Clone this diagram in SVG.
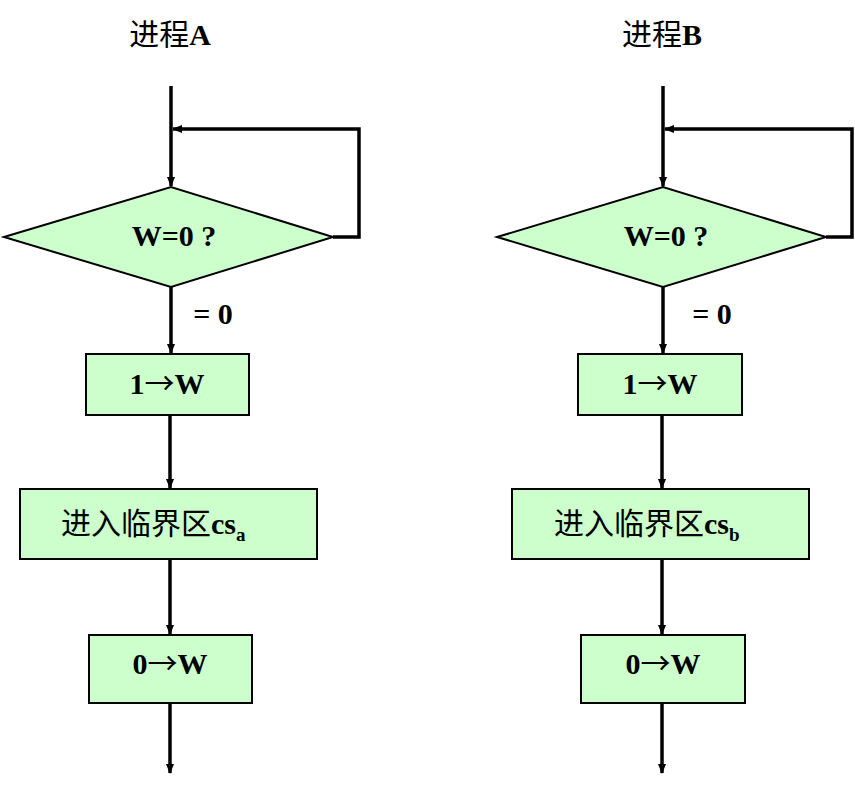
<svg xmlns="http://www.w3.org/2000/svg" width="855" height="786" viewBox="0 0 855 786">
<style>
.shape{fill:#CCFFCC;stroke:#000;stroke-width:2}
.ln{fill:none;stroke:#000;stroke-width:3.5}
.t{font-family:"Liberation Serif","Noto Sans CJK SC",serif;font-weight:bold;font-size:30px;text-anchor:middle;fill:#000}
.cn{font-family:"Liberation Serif","Noto Sans CJK SC",serif;font-weight:normal;font-size:30px;fill:#000}
.ar{font-family:"Noto Sans CJK SC",sans-serif;font-weight:normal}
</style>
<defs>
<marker id="ah" markerWidth="10" markerHeight="10" refX="9" refY="5" orient="auto" markerUnits="userSpaceOnUse">
<path d="M0,1 L10,5 L0,9 Z" fill="#000"/>
</marker>
</defs>
<g id="titleA"><text x="170" y="45" class="t"><tspan font-weight="normal">进程</tspan>A</text></g>
<g id="titleB"><text x="662" y="45" class="t"><tspan font-weight="normal">进程</tspan>B</text></g>

<g id="connectors">
<path class="ln" d="M171,86 V186" marker-end="url(#ah)"/>
<path class="ln" d="M333,237 H359 V129 H173" marker-end="url(#ah)"/>
<path class="ln" d="M171,287 V353" marker-end="url(#ah)"/>
<path class="ln" d="M170,415 V488" marker-end="url(#ah)"/>
<path class="ln" d="M170,560 V634" marker-end="url(#ah)"/>
<path class="ln" d="M170,700 V773" marker-end="url(#ah)"/>

<path class="ln" d="M663,86 V186" marker-end="url(#ah)"/>
<path class="ln" d="M826,237 H852 V129 H665" marker-end="url(#ah)"/>
<path class="ln" d="M663,287 V353" marker-end="url(#ah)"/>
<path class="ln" d="M662,415 V488" marker-end="url(#ah)"/>
<path class="ln" d="M662,560 V634" marker-end="url(#ah)"/>
<path class="ln" d="M662,700 V773" marker-end="url(#ah)"/>
<text x="213" y="324" class="t" font-size="28">= 0</text>
<text x="712" y="324" class="t" font-size="28">= 0</text>
</g>

<g id="decisionA">
<polygon class="shape" points="4,237 171,187 333,237 171,287"/>
<text x="174" y="246" class="t">W=0 ?</text>
</g>
<g id="setA">
<rect class="shape" x="86" y="354" width="163" height="61"/>
<text x="167" y="394" class="t">1<tspan class="ar">→</tspan>W</text>
</g>
<g id="csA">
<rect class="shape" x="20" y="489" width="297" height="70"/>
<text x="61" y="534" class="cn">进入临界区<tspan font-weight="bold">cs</tspan><tspan font-weight="bold" font-size="19" dy="7">a</tspan></text>
</g>
<g id="resetA">
<rect class="shape" x="89" y="635" width="163" height="68"/>
<text x="170" y="674" class="t">0<tspan class="ar">→</tspan>W</text>
</g>

<g id="decisionB">
<polygon class="shape" points="497,237 663,187 826,237 663,287"/>
<text x="666" y="246" class="t">W=0 ?</text>
</g>
<g id="setB">
<rect class="shape" x="578" y="354" width="164" height="61"/>
<text x="660" y="394" class="t">1<tspan class="ar">→</tspan>W</text>
</g>
<g id="csB">
<rect class="shape" x="512" y="489" width="297" height="70"/>
<text x="554" y="534" class="cn">进入临界区<tspan font-weight="bold">cs</tspan><tspan font-weight="bold" font-size="19" dy="7">b</tspan></text>
</g>
<g id="resetB">
<rect class="shape" x="581" y="635" width="164" height="68"/>
<text x="663" y="674" class="t">0<tspan class="ar">→</tspan>W</text>
</g>
</svg>
